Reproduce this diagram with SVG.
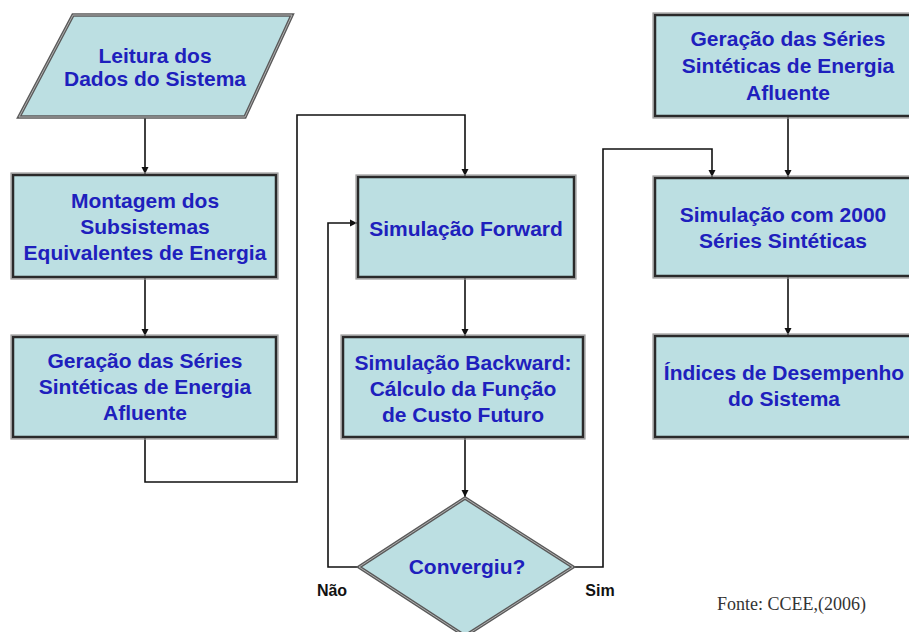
<svg xmlns="http://www.w3.org/2000/svg" width="909" height="632" viewBox="0 0 909 632">
<style>
.box{fill:#bcdfe2;stroke:#2a2a2a;stroke-width:2.5}
.outer{fill:none;stroke:#9a9a9a;stroke-width:1.2}
.shape{fill:#bcdfe2;stroke:#5a5a5a;stroke-width:3.5}
.shape2{fill:none;stroke:#b0b0b0;stroke-width:1}
.t{font-family:"Liberation Sans",Arial,sans-serif;font-weight:bold;font-size:21px;fill:#1e20bd;text-anchor:middle}
.lbl{font-family:"Liberation Sans",Arial,sans-serif;font-weight:bold;font-size:16px;fill:#111;text-anchor:middle}
.src{font-family:"Liberation Serif","Times New Roman",serif;font-size:18px;fill:#333}
.c{fill:none;stroke:#111;stroke-width:1.6}
</style>
<defs>
<marker id="ah" markerWidth="8" markerHeight="8" refX="7" refY="4" orient="auto" markerUnits="userSpaceOnUse">
<path d="M0,0.5 L7,4 L0,7.5 Z" fill="#111"/>
</marker>
</defs>
<rect width="909" height="632" fill="#fff"/>

<g id="connectors">
<path class="c" d="M145,117 L145,174" marker-end="url(#ah)"/>
<path class="c" d="M145,277 L145,336" marker-end="url(#ah)"/>
<path class="c" d="M145,437 L145,482 L297,482 L297,115 L465,115 L465,176" marker-end="url(#ah)"/>
<path class="c" d="M465,277 L465,336" marker-end="url(#ah)"/>
<path class="c" d="M465,437 L465,497" marker-end="url(#ah)"/>
<path class="c" d="M359,567 L328,567 L328,223 L357,223" marker-end="url(#ah)"/>
<path class="c" d="M573,567 L603,567 L603,149 L712,149 L712,177" marker-end="url(#ah)"/>
<path class="c" d="M788,116 L788,177" marker-end="url(#ah)"/>
<path class="c" d="M788,276 L788,335" marker-end="url(#ah)"/>
</g>

<g id="leitura">
<polygon class="shape" points="73,15 292,15 245,117 19,117"/>
<polygon class="shape2" points="73,15 292,15 245,117 19,117"/>
<text class="t" x="155" y="63">Leitura dos</text>
<text class="t" x="155" y="86">Dados do Sistema</text>
</g>

<g id="montagem">
<rect class="outer" x="11" y="173" width="267" height="106"/>
<rect class="box" x="13" y="175" width="263" height="102"/>
<text class="t" x="145" y="208">Montagem dos</text>
<text class="t" x="145" y="234">Subsistemas</text>
<text class="t" x="145" y="260">Equivalentes de Energia</text>
</g>

<g id="geracao1">
<rect class="outer" x="11" y="335" width="267" height="104"/>
<rect class="box" x="13" y="337" width="263" height="100"/>
<text class="t" x="145" y="368">Geração das Séries</text>
<text class="t" x="145" y="394">Sintéticas de Energia</text>
<text class="t" x="145" y="420">Afluente</text>
</g>

<g id="forward">
<rect class="outer" x="356" y="175" width="220" height="104"/>
<rect class="box" x="358" y="177" width="216" height="100"/>
<text class="t" x="466" y="236">Simulação Forward</text>
</g>

<g id="backward">
<rect class="outer" x="341" y="335" width="244" height="104"/>
<rect class="box" x="343" y="337" width="240" height="100"/>
<text class="t" x="463" y="370">Simulação Backward:</text>
<text class="t" x="463" y="396">Cálculo da Função</text>
<text class="t" x="463" y="422">de Custo Futuro</text>
</g>

<g id="convergiu">
<polygon class="shape" points="465,498 573,567 465,636 359,567"/>
<polygon class="shape2" points="465,498 573,567 465,636 359,567"/>
<text class="t" x="467" y="574">Convergiu?</text>
</g>

<g id="geracao2">
<rect class="outer" x="653" y="13" width="264" height="105"/>
<rect class="box" x="655" y="15" width="260" height="101"/>
<text class="t" x="788" y="46">Geração das Séries</text>
<text class="t" x="788" y="73">Sintéticas de Energia</text>
<text class="t" x="788" y="100">Afluente</text>
</g>

<g id="sim2000">
<rect class="outer" x="653" y="176" width="264" height="102"/>
<rect class="box" x="655" y="178" width="260" height="98"/>
<text class="t" x="783" y="222">Simulação com 2000</text>
<text class="t" x="783" y="248">Séries Sintéticas</text>
</g>

<g id="indices">
<rect class="outer" x="653" y="334" width="264" height="105"/>
<rect class="box" x="655" y="336" width="260" height="101"/>
<text class="t" x="784" y="380">Índices de Desempenho</text>
<text class="t" x="784" y="406">do Sistema</text>
</g>

<g id="labels">
<text class="lbl" x="332" y="596">Não</text>
<text class="lbl" x="600" y="596">Sim</text>
<text class="src" x="717" y="610">Fonte: CCEE,(2006)</text>
</g>
</svg>
